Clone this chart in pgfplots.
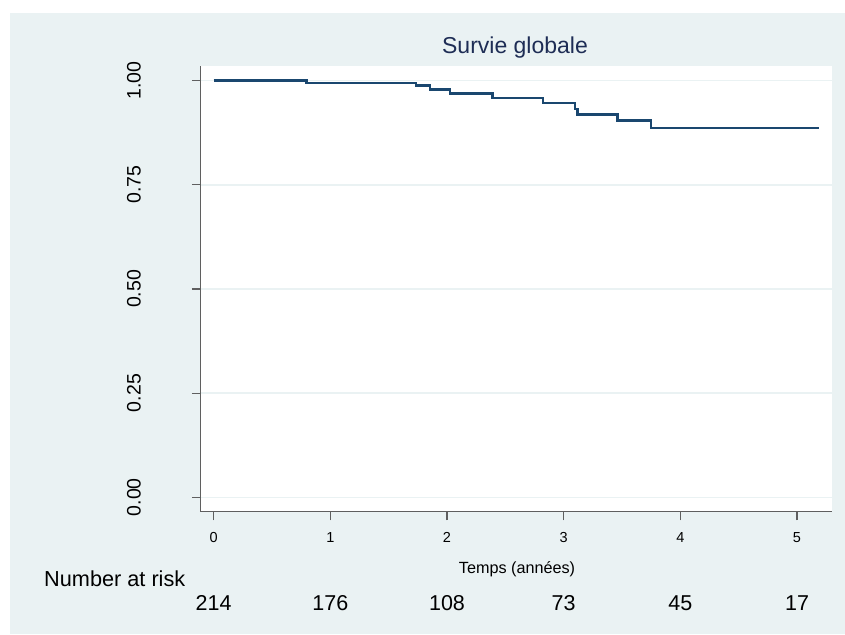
\documentclass[border=0pt]{standalone}
\usepackage{pgfplots}
\pgfplotsset{compat=1.18}
\usepackage{fontspec}
\setmainfont{Liberation Sans}
\definecolor{bgc}{RGB}{234,242,243}
\definecolor{navyc}{RGB}{26,71,111}
\definecolor{titlec}{RGB}{30,45,85}
\definecolor{axc}{RGB}{95,95,95}
\begin{document}
\begin{tikzpicture}[x=1pt,y=1pt]
\useasboundingbox (0,0) rectangle (845,634);
\fill[white] (0,0) rectangle (845,634);
\fill[bgc] (10,0) rectangle (845,621);
\begin{axis}[
  at={(200.7pt,122.3pt)}, anchor=south west,
  scale only axis, width=631.3pt, height=445.7pt,
  xmin=-0.111, xmax=5.30, ymin=-0.0346, ymax=1.035,
  axis background/.style={fill=white},
  axis x line=bottom, axis y line=left,
  axis line style={-, draw=axc, line width=1.2pt},
  tick align=outside, major tick length=8.7pt,
  tick style={draw=axc, line width=1.2pt},
  xtick={0,1,2,3,4,5}, xticklabels={0,1,2,3,4,5},
  ytick={0,0.25,0.5,0.75,1}, yticklabels={0.00,0.25,0.50,0.75,1.00},
  minor tick num=0,
  xticklabel style={font=\fontsize{14.5}{17}\selectfont, anchor=center},
  xticklabel shift=17pt,
  yticklabel style={font=\fontsize{19.5}{23}\selectfont, rotate=90, anchor=center},
  yticklabel shift=58pt,
  ymajorgrids, grid style={draw=bgc, line width=1.5pt},
  clip=false,
]
\addplot[const plot, draw=navyc, line width=2.6pt] coordinates {
(0,1.0) (0.797,0.9945) (1.733,0.988) (1.853,0.979) (2.025,0.969)
(2.391,0.9585) (2.824,0.946) (3.096,0.932) (3.119,0.9193) (3.462,0.904)
(3.747,0.886) (5.187,0.886)};
\node[font=\fontsize{21.5}{25}\selectfont] at (axis cs:0,-0.2537) {214};
\node[font=\fontsize{21.5}{25}\selectfont] at (axis cs:1,-0.2537) {176};
\node[font=\fontsize{21.5}{25}\selectfont] at (axis cs:2,-0.2537) {108};
\node[font=\fontsize{21.5}{25}\selectfont] at (axis cs:3,-0.2537) {73};
\node[font=\fontsize{21.5}{25}\selectfont] at (axis cs:4,-0.2537) {45};
\node[font=\fontsize{21.5}{25}\selectfont] at (axis cs:5,-0.2537) {17};
\end{axis}
\node[font=\fontsize{23}{27}\selectfont, text=titlec] at (515,586) {Survie globale};
\node[font=\fontsize{16.2}{19}\selectfont] at (517,65) {Temps (années)};
\node[font=\fontsize{21.7}{25}\selectfont, anchor=west, inner sep=0pt] at (44,55) {Number at risk};
\end{tikzpicture}
\end{document}
